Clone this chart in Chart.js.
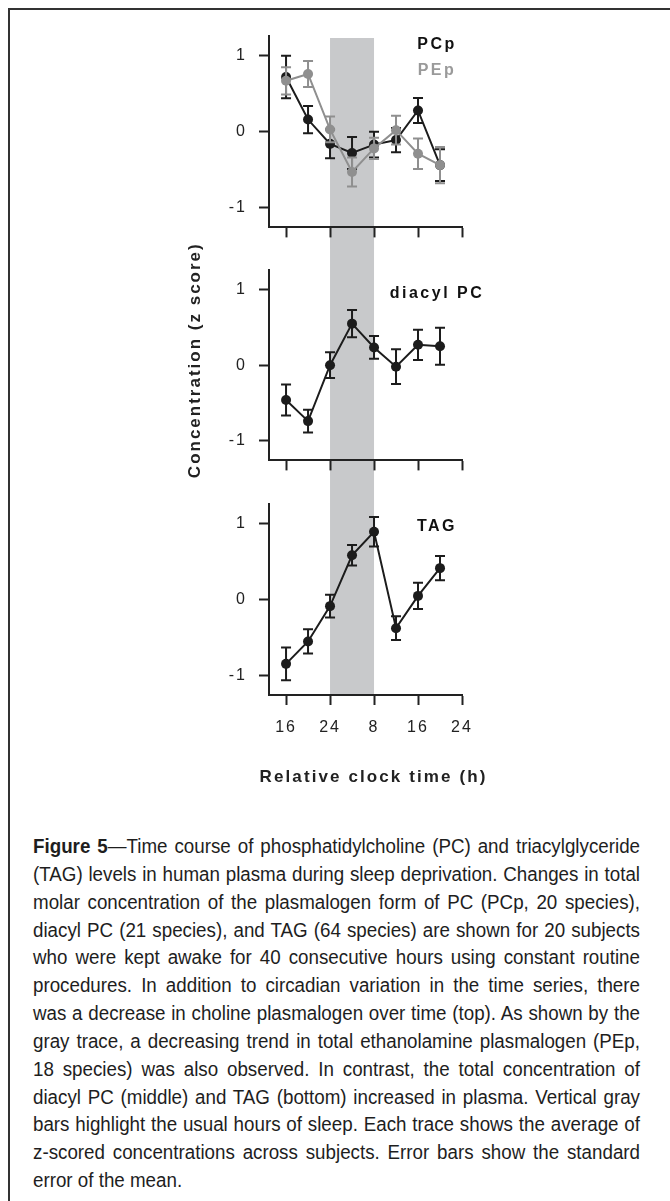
<!DOCTYPE html>
<html>
<head>
<meta charset="utf-8">
<script src="https://cdn.jsdelivr.net/npm/chart.js@4.4.1/dist/chart.umd.min.js"></script>
<style>
html, body { margin: 0; padding: 0; background: #fff; overflow: hidden; }
body { width: 670px; height: 1201px; position: relative; font-family: "Liberation Sans", Arial, sans-serif; }
#marco { position: absolute; left: 8px; top: 8px; width: 700px; height: 1300px; border-left: 2px solid #333; border-top: 2px solid #333; }
canvas { position: absolute; left: 0; }
#c1 { top: 0; }
#c2 { top: 240px; }
#c3 { top: 482px; }
/* Arial Narrow no está instalada: se estrecha Liberation Sans (escala calculada abajo) */
#leyenda { position: absolute; left: 33px; top: 833px; width: 607px; transform-origin: 0 0; font-family: "Liberation Sans", Arial, sans-serif; font-size: 20px; line-height: 27.85px; color: #1e1e1e; }
#leyenda div { text-align: justify; text-align-last: justify; white-space: nowrap; }
#leyenda div.ultima { text-align-last: left; }
</style>
</head>
<body>
<div id="marco"></div>
<canvas id="c1" width="670" height="249"></canvas>
<canvas id="c2" width="670" height="242"></canvas>
<canvas id="c3" width="670" height="318"></canvas>
<div id="leyenda">
  <div><b>Figure 5</b>—Time course of phosphatidylcholine (PC) and triacylglyceride</div>
  <div>(TAG) levels in human plasma during sleep deprivation. Changes in total</div>
  <div>molar concentration of the plasmalogen form of PC (PCp, 20 species),</div>
  <div>diacyl PC (21 species), and TAG (64 species) are shown for 20 subjects</div>
  <div>who were kept awake for 40 consecutive hours using constant routine</div>
  <div>procedures. In addition to circadian variation in the time series, there</div>
  <div>was a decrease in choline plasmalogen over time (top). As shown by the</div>
  <div>gray trace, a decreasing trend in total ethanolamine plasmalogen (PEp,</div>
  <div>18 species) was also observed. In contrast, the total concentration of</div>
  <div>diacyl PC (middle) and TAG (bottom) increased in plasma. Vertical gray</div>
  <div>bars highlight the usual hours of sleep. Each trace shows the average of</div>
  <div>z-scored concentrations across subjects. Error bars show the standard</div>
  <div class="ultima">error of the mean.</div>
</div>
<script>
// Datos (horas relativas: 24 = medianoche, 32 = 8 h del dia siguiente)
const hours = [16, 20, 24, 28, 32, 36, 40, 44];
const xTickHours = [16, 24, 32, 40, 48];
const xTickLabels = ['16', '24', '8', '16', '24'];
const yTicks = [-1, 0, 1];
const sleepHours = [24, 32];

const pcpMean = [0.72, 0.16, -0.16, -0.28, -0.17, -0.11, 0.28, -0.44];
const pcpErr = [0.28, 0.18, 0.19, 0.21, 0.17, 0.16, 0.165, 0.21];
const pepMean = [0.67, 0.76, 0.03, -0.53, -0.22, 0.02, -0.29, -0.44];
const pepErr = [0.18, 0.17, 0.17, 0.19, 0.14, 0.19, 0.2, 0.24];
const diacylMean = [-0.46, -0.74, 0.0, 0.55, 0.235, -0.02, 0.27, 0.25];
const diacylErr = [0.205, 0.15, 0.17, 0.18, 0.15, 0.23, 0.2, 0.245];
const tagMean = [-0.85, -0.555, -0.09, 0.58, 0.89, -0.38, 0.045, 0.41];
const tagErr = [0.215, 0.16, 0.15, 0.135, 0.195, 0.156, 0.174, 0.16];

const NEGRO = '#1c1c1c';
const GRIS = '#8f8f8f';
const FUENTE = '"Liberation Sans", Arial, sans-serif';

// Estrechar la leyenda para que la línea más larga quepa en 607 px
(function ajustarLeyenda() {
    const caja = document.getElementById('leyenda');
    let maxAncho = 0;
    caja.querySelectorAll('div').forEach(d => {
        d.style.display = 'inline-block';
        maxAncho = Math.max(maxAncho, d.getBoundingClientRect().width);
        d.style.display = '';
    });
    const escala = Math.min(1, 607 / (maxAncho + 6));
    caja.style.width = (607 / escala) + 'px';
    caja.style.transform = 'scaleX(' + escala + ')';
})();

Chart.defaults.font.family = FUENTE;
Chart.defaults.color = '#222';

function serie(label, medias, errores, color) {
    return {
        label: label,
        data: hours.map((h, i) => ({ x: h, y: medias[i] })),
        errores: errores,
        borderColor: color,
        backgroundColor: color,
        pointBackgroundColor: color,
        pointBorderWidth: 0,
        pointRadius: 5,
        borderWidth: 2,
        tension: 0
    };
}

// Banda gris con las horas habituales de sueño
const bandaSueno = {
    id: 'bandaSueno',
    beforeDraw(chart, args, opts) {
        const { ctx, chartArea, scales: { x } } = chart;
        const x0 = x.getPixelForValue(sleepHours[0]);
        const x1 = x.getPixelForValue(sleepHours[1]);
        const arriba = opts.desdeArriba ? 0 : chartArea.top + 2;
        const abajo = opts.hastaAbajo ? chart.height : chartArea.bottom;
        ctx.save();
        ctx.fillStyle = '#c8c9cb';
        ctx.fillRect(x0, arriba, x1 - x0, abajo - arriba);
        ctx.restore();
        ctx.letterSpacing = '2px'; // el texto de la figura va algo espaciado
    }
};

// Barras de error (error estándar) dibujadas antes de cada serie
const barrasError = {
    id: 'barrasError',
    beforeDatasetDraw(chart, args) {
        const ds = chart.data.datasets[args.index];
        if (!ds.errores) return;
        const { ctx, scales: { x, y } } = chart;
        ctx.save();
        ctx.strokeStyle = ds.borderColor;
        ctx.lineWidth = 2;
        ds.data.forEach((p, i) => {
            const px = x.getPixelForValue(p.x);
            const yArriba = y.getPixelForValue(p.y + ds.errores[i]);
            const yAbajo = y.getPixelForValue(p.y - ds.errores[i]);
            ctx.beginPath();
            ctx.moveTo(px, yArriba); ctx.lineTo(px, yAbajo);
            ctx.moveTo(px - 5, yArriba); ctx.lineTo(px + 5, yArriba);
            ctx.moveTo(px - 5, yAbajo); ctx.lineTo(px + 5, yAbajo);
            ctx.stroke();
        });
        ctx.restore();
    }
};

// Nombres de cada panel (PCp / PEp, diacyl PC, TAG) y títulos de los ejes
const etiquetas = {
    id: 'etiquetas',
    afterDraw(chart, args, opts) {
        const { ctx, chartArea, scales: { x, y } } = chart;
        ctx.save();
        ctx.textAlign = 'center';
        ctx.textBaseline = 'middle';
        ctx.font = 'bold 16px ' + FUENTE;
        ctx.letterSpacing = '2.5px';
        (opts.items || []).forEach(it => {
            ctx.fillStyle = it.color;
            ctx.fillText(it.text, chartArea.right - 25, chartArea.top + it.dy);
        });
        ctx.font = 'bold 17px ' + FUENTE;
        ctx.fillStyle = '#222';
        if (opts.tituloX) {
            ctx.letterSpacing = '2.1px';
            ctx.fillText(opts.tituloX, (x.left + x.right) / 2 + 8, x.bottom - 23);
        }
        if (opts.tituloY) {
            ctx.letterSpacing = '2px';
            ctx.translate(y.left + 195, (chartArea.top + chartArea.bottom) / 2 - 5);
            ctx.rotate(-Math.PI / 2);
            ctx.fillText(opts.tituloY, 0, 0);
        }
        ctx.restore();
    }
};

function opciones(cfg) {
    return {
        responsive: false,
        animation: false,
        layout: { padding: { top: cfg.arriba, right: 208, bottom: 0, left: 0 } },
        plugins: {
            legend: { display: false },
            tooltip: { enabled: false },
            bandaSueno: { desdeArriba: cfg.desdeArriba, hastaAbajo: cfg.hastaAbajo },
            etiquetas: { items: cfg.etiquetas, tituloX: cfg.tituloX, tituloY: cfg.tituloY }
        },
        scales: {
            x: {
                type: 'linear',
                min: 12.9,
                max: 48,
                afterBuildTicks: s => { s.ticks = xTickHours.map(v => ({ value: v })); },
                afterFit: s => { s.height = cfg.altoX; },
                border: { display: true, color: '#222', width: 2 },
                grid: { drawOnChartArea: false, drawTicks: true, tickLength: 10, tickWidth: 2, tickColor: '#222' },
                ticks: {
                    display: !!cfg.tituloX,
                    autoSkip: false,
                    maxRotation: 0,
                    padding: 13,
                    color: '#222',
                    font: { size: 16 },
                    callback: (v, i) => xTickLabels[i]
                }
            },
            y: {
                min: -1.26,
                max: 1.26,
                afterBuildTicks: s => { s.ticks = yTicks.map(v => ({ value: v })); },
                afterFit: s => { s.width = 269; },
                border: { display: true, color: '#222', width: 2 },
                grid: { drawOnChartArea: false, drawTicks: true, tickLength: 10, tickWidth: 2, tickColor: '#222' },
                ticks: {
                    padding: 12,
                    color: '#222',
                    font: { size: 16 },
                    callback: v => String(v)
                }
            }
        }
    };
}

new Chart(document.getElementById('c1'), {
    type: 'line',
    data: { datasets: [serie('PEp', pepMean, pepErr, GRIS), serie('PCp', pcpMean, pcpErr, NEGRO)] },
    options: opciones({
        arriba: 36, altoX: 20,
        desdeArriba: false, hastaAbajo: true,
        etiquetas: [{ text: 'PCp', color: '#111', dy: 9 }, { text: 'PEp', color: '#9a9a9a', dy: 35 }]
    }),
    plugins: [bandaSueno, barrasError, etiquetas]
});

new Chart(document.getElementById('c2'), {
    type: 'line',
    data: { datasets: [serie('diacyl PC', diacylMean, diacylErr, NEGRO)] },
    options: opciones({
        arriba: 30, altoX: 20,
        desdeArriba: true, hastaAbajo: true,
        tituloY: 'Concentration (z score)',
        etiquetas: [{ text: 'diacyl PC', color: '#111', dy: 24 }]
    }),
    plugins: [bandaSueno, barrasError, etiquetas]
});

new Chart(document.getElementById('c3'), {
    type: 'line',
    data: { datasets: [serie('TAG', tagMean, tagErr, NEGRO)] },
    options: opciones({
        arriba: 20, altoX: 105,
        desdeArriba: true, hastaAbajo: false,
        tituloX: 'Relative clock time (h)',
        etiquetas: [{ text: 'TAG', color: '#111', dy: 23 }]
    }),
    plugins: [bandaSueno, barrasError, etiquetas]
});
</script>
</body>
</html>
